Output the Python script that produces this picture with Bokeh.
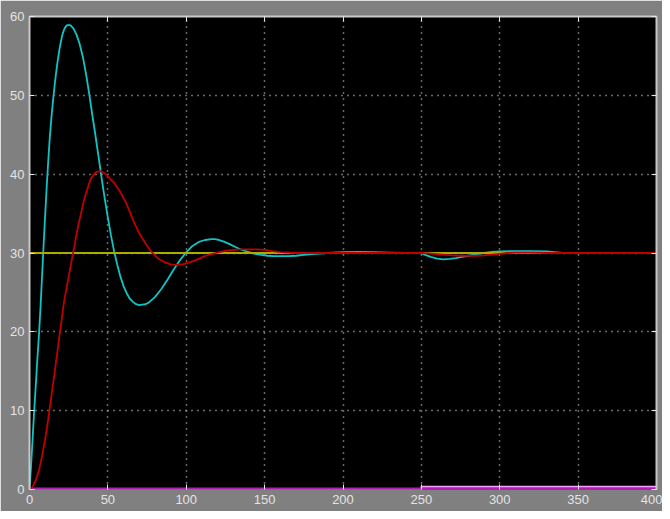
from bokeh.plotting import figure
from bokeh.models import Range1d, LinearAxis, SingleIntervalTicker
from bokeh.embed import file_html
from bokeh.resources import INLINE

# ---- data (time, value) ----
cyan_t = [0, 1, 2, 3, 4, 5, 6, 7, 8, 9, 10, 11, 12, 13, 14, 15, 16, 17, 18, 19,
          20, 21, 22, 23, 24, 26, 28, 30, 32, 34, 36, 38, 40, 42, 44, 46, 48, 50,
          52, 54, 56, 58, 60, 62, 64, 66, 68, 70, 72, 74, 76, 80, 84, 88, 92, 96,
          100, 104, 108, 112, 116, 118, 120, 124, 128, 132, 136, 140, 144, 148,
          152, 156, 160, 165, 170, 175, 180, 190, 200, 210, 220, 230, 240, 250,
          252, 256, 260, 264, 268, 272, 276, 280, 285, 290, 295, 300, 310, 320,
          330, 340, 350, 360, 400]
cyan_v = [0, 3, 6.5, 10, 13.2, 16.5, 19.5, 23, 27, 31, 34.8, 38.5, 41.8, 44.8,
          47.2, 49.3, 51.2, 52.9, 54.4, 55.7, 56.8, 57.7, 58.3, 58.7, 58.9, 58.9,
          58.5, 57.7, 56.5, 54.9, 52.8, 50.3, 47.6, 45.0, 42.3, 39.5, 36.9, 34.5,
          32.2, 30.2, 28.5, 27.0, 25.8, 24.9, 24.2, 23.8, 23.5, 23.4, 23.45, 23.5,
          23.7, 24.4, 25.4, 26.6, 27.9, 29.1, 30.1, 30.9, 31.4, 31.65, 31.75,
          31.75, 31.7, 31.45, 31.1, 30.7, 30.35, 30.1, 29.9, 29.75, 29.65, 29.6,
          29.6, 29.6, 29.65, 29.75, 29.85, 30.0, 30.1, 30.15, 30.1, 30.05, 30.0,
          30.0, 29.8, 29.5, 29.3, 29.2, 29.25, 29.35, 29.5, 29.65, 29.85, 30.0,
          30.15, 30.2, 30.25, 30.25, 30.2, 30.0, 30.0, 30.0, 30.0]

red_t = [0, 2, 4, 6, 8, 10, 12, 14, 16, 18, 20, 22, 25, 28, 31, 35, 39, 42, 45,
         48, 50, 54, 58, 62, 66, 70, 74, 78, 82, 86, 90, 94, 98, 102, 106, 110,
         114, 118, 122, 126, 130, 135, 140, 145, 150, 155, 160, 170, 250, 255,
         260, 265, 270, 275, 280, 285, 290, 295, 300, 305, 310, 320, 330, 400]
red_v = [0, 0.3, 1.2, 2.4, 4.2, 6.4, 9.0, 11.9, 14.8, 17.8, 20.8, 23.8, 27.0,
         30.2, 33.4, 36.9, 39.4, 40.2, 40.4, 40.1, 39.7, 38.9, 37.7, 36.2, 34.2,
         32.5, 31.2, 30.1, 29.3, 28.85, 28.55, 28.5, 28.6, 28.8, 29.1, 29.45,
         29.75, 29.95, 30.15, 30.3, 30.4, 30.45, 30.45, 30.45, 30.4, 30.25, 30.1,
         30.0, 30.0, 29.95, 29.85, 29.75, 29.7, 29.65, 29.65, 29.65, 29.7, 29.8,
         29.9, 30.0, 30.05, 30.05, 30.0, 30.0]

setpoint_t = [0, 400]
setpoint_v = [30, 30]

dist_t = [0, 250, 250, 400]
dist_v = [0, 0, 0.35, 0.35]

zero_t = [0, 400]
zero_v = [0, 0]

x_ticks_step = 50
y_ticks_step = 10

# ---- figure ----
p = figure(width=662, height=511, output_backend="svg", toolbar_location=None,
           x_range=Range1d(0, 400), y_range=Range1d(0, 60),
           min_border_left=29, min_border_top=16, min_border_right=6,
           min_border_bottom=22, x_axis_location=None, y_axis_location=None)
p.background_fill_color = "black"
p.border_fill_color = "#808080"
p.outline_line_color = None

xt = SingleIntervalTicker(interval=x_ticks_step, num_minor_ticks=0)
yt = SingleIntervalTicker(interval=y_ticks_step, num_minor_ticks=0)

def style(ax, labels=True, line=True):
    ax.axis_line_color = "#c8c8c8" if line else None
    ax.axis_line_width = 2
    ax.major_tick_in = 5
    ax.major_tick_out = 0
    ax.major_tick_line_color = "#e8e8e8"
    ax.major_tick_line_width = 1
    ax.minor_tick_line_color = None
    if labels:
        ax.major_label_text_color = "#e4e4e4"
        ax.major_label_text_font = "Liberation Sans"
        ax.major_label_text_font_size = "13px"
        ax.major_label_standoff = 5
    else:
        ax.major_label_text_color = None
        ax.major_label_text_font_size = "1px"
        ax.major_label_standoff = 0

bottom = LinearAxis(ticker=xt)
left = LinearAxis(ticker=yt)
top = LinearAxis(ticker=xt)
right = LinearAxis(ticker=yt)
style(bottom, line=False)
style(left)
style(top, False)
style(right, False)
p.add_layout(bottom, "below")
p.add_layout(left, "left")
p.add_layout(top, "above")
p.add_layout(right, "right")

p.xgrid.ticker = xt
p.ygrid.ticker = yt
for g in (p.xgrid, p.ygrid):
    g.grid_line_color = "#d0d0d0"
    g.grid_line_dash = "1 5"
    g.grid_line_width = 1.5

p.line(dist_t, dist_v, line_color="#ff9cff", line_width=2)
p.line(zero_t, zero_v, line_color="#b020b0", line_width=4)
p.line(cyan_t, cyan_v, line_color="#10c4c4", line_width=1.8, line_join="round")
p.line(setpoint_t, setpoint_v, line_color="#acac00", line_width=2)
p.line(red_t, red_v, line_color="#c00000", line_width=1.8, line_join="round")

open("out.html", "w").write(file_html(p, INLINE))
